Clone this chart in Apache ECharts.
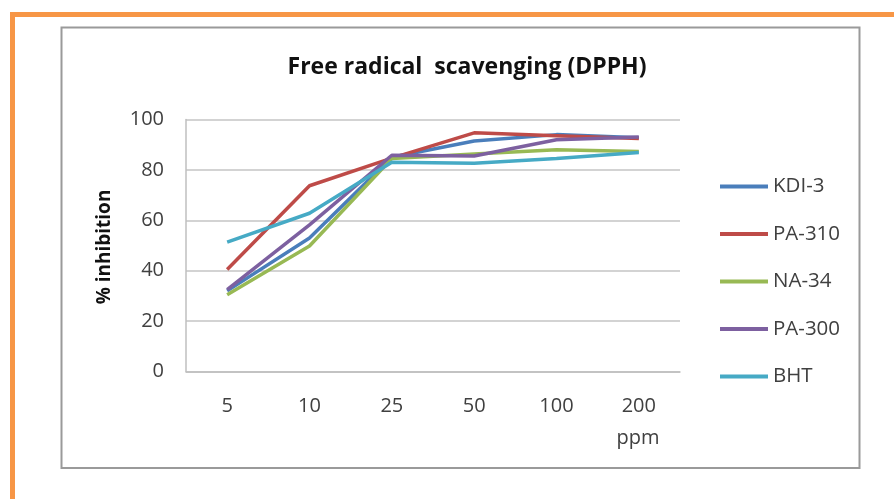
<!DOCTYPE html>
<html lang="en">
<head>
<meta charset="UTF-8">
<title>DPPH</title>
<script src="https://cdn.jsdelivr.net/npm/echarts@6/dist/echarts.min.js"></script>
<style>
  html, body { margin: 0; padding: 0; background: #fff; }
  #chart { width: 894px; height: 499px; }
</style>
</head>
<body>
<div id="chart"></div>
<script>
// data
var doses = ['5', '10', '25', '50', '100', '200'];
var yTicks = [0, 20, 40, 60, 80, 100];
var seriesNames = ['KDI-3', 'PA-310', 'NA-34', 'PA-300', 'BHT'];
var kdi3  = [32, 53, 85, 91.5, 94, 92.8];
var pa310 = [40.5, 73.7, 84.7, 94.7, 93.6, 92.5];
var na34  = [30.5, 49.8, 84.5, 86.3, 88, 87.3];
var pa300 = [32.5, 58.2, 85.8, 85.5, 92, 93.1];
var bht   = [51.3, 62.8, 83, 82.6, 84.5, 86.9];
var colors = ['#4a7ebb', '#be4b48', '#98b954', '#7d60a0', '#46aac5'];

var chart = echarts.init(document.getElementById('chart'));
var font = 'Open Sans';
var allData = [kdi3, pa310, na34, pa300, bht];

var series = seriesNames.map(function (n, i) {
  return {
    name: n,
    type: 'line',
    data: allData[i],
    symbol: 'none',
    lineStyle: { width: 3.5, color: colors[i] },
    itemStyle: { color: colors[i] }
  };
});

chart.setOption({
  animation: false,
  color: colors,
  textStyle: { fontFamily: font },
  title: {
    text: 'Free radical  scavenging (DPPH)',
    left: 462,
    top: 51,
    textAlign: 'center',
    textStyle: { fontFamily: font, fontSize: 23, fontWeight: 'bold', color: '#111' }
  },
  legend: {
    orient: 'vertical',
    left: 715,
    top: 171,
    icon: 'rect',
    itemWidth: 48,
    itemHeight: 4,
    itemGap: 26.5,
    data: seriesNames,
    textStyle: { fontFamily: font, fontSize: 20.5, color: '#404040', lineHeight: 20 }
  },
  grid: { left: 186, top: 119.5, width: 494, height: 252 },
  xAxis: {
    type: 'category',
    data: doses,
    boundaryGap: true,
    axisTick: { show: false },
    axisLine: { lineStyle: { color: '#bfbfbf', width: 1.5 } },
    axisLabel: { margin: 25, fontFamily: font, fontSize: 20, color: '#404040' }
  },
  yAxis: {
    type: 'value',
    min: yTicks[0],
    max: yTicks[yTicks.length - 1],
    interval: 20,
    axisLine: { show: true, lineStyle: { color: '#bfbfbf', width: 1.5 } },
    axisTick: { show: false },
    splitLine: { lineStyle: { color: '#c4c4c4', width: 1.5 } },
    axisLabel: { margin: 22, fontFamily: font, fontSize: 20, color: '#404040' }
  },
  graphic: [
    { type: 'rect', z: -10, shape: { x: 10, y: 12, width: 884, height: 5 }, style: { fill: '#f79646' } },
    { type: 'rect', z: -10, shape: { x: 10, y: 12, width: 5, height: 487 }, style: { fill: '#f79646' } },
    { type: 'rect', z: -10, shape: { x: 61.5, y: 27.5, width: 798, height: 440.5 },
      style: { fill: '#fff', stroke: '#9a9a9a', lineWidth: 2 } },
    { type: 'text', x: 105, y: 247, rotation: Math.PI / 2,
      style: { text: '% inhibition', fontFamily: font, fontSize: 19, fontWeight: 'bold', fill: '#111',
               textAlign: 'center', textVerticalAlign: 'middle' } },
    { type: 'text', x: 638, y: 438,
      style: { text: 'ppm', fontFamily: font, fontSize: 20, fill: '#404040',
               textAlign: 'center', textVerticalAlign: 'middle' } }
  ],
  series: series
});
</script>
</body>
</html>
